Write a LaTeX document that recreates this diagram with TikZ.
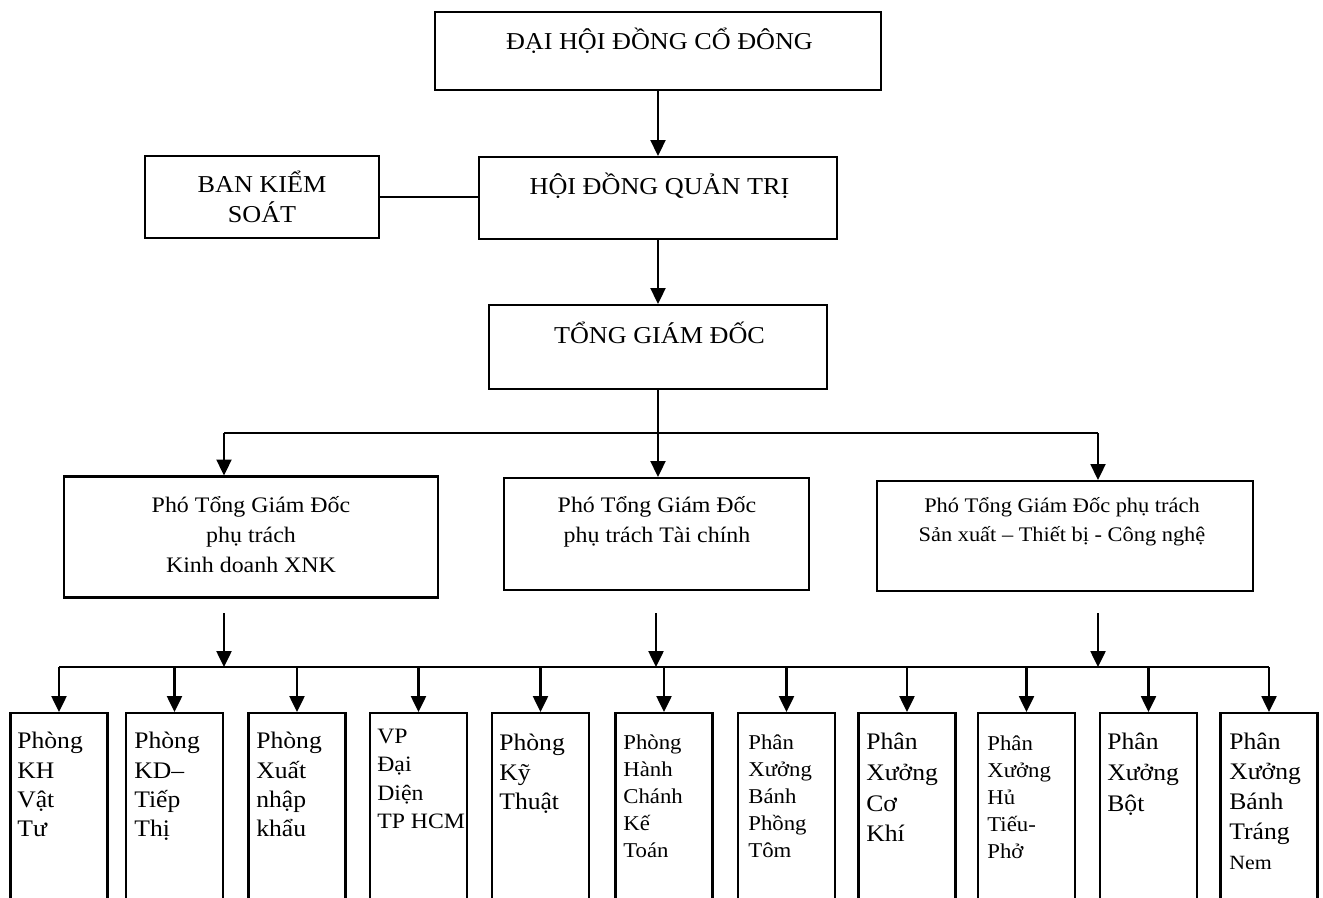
\documentclass[tikz,border=0pt]{standalone}
\usepackage{fontspec}
\setmainfont{Liberation Serif}[FakeStretch=1.08]
\usetikzlibrary{arrows.meta}

\tikzset{
  box/.style={draw, line width=1.2pt, inner sep=0pt},
  arr/.style={line width=1.2pt, -{Triangle[length=9pt,width=8.5pt]}},
  lnk/.style={line width=1.2pt},
  capt/.style={inner sep=0pt, font=\fontsize{13.8}{17}\selectfont},
  vice/.style={inner sep=0pt, align=center, anchor=north, font=\fontsize{12.6}{17}\selectfont},
  dept/.style={inner sep=0pt, align=left, anchor=north west, font=\fontsize{13.5}{16.6}\selectfont},
  deptsm/.style={dept, font=\fontsize{12}{15.4}\selectfont},
  unit/.style={box, minimum width=1.94cm, minimum height=3.9cm, anchor=north}
}

\begin{document}
\begin{tikzpicture}[x=0.02cm,y=-0.02cm]
\useasboundingbox (0,0) rectangle (1323,897);
\clip (0,0) rectangle (1323,897);

\node[box, minimum width=8.92cm, minimum height=1.56cm] (dhcd) at (658,51) {};
\node[box, minimum width=7.16cm, minimum height=1.64cm] (hdqt) at (658,198) {};
\node[box, minimum width=4.68cm, minimum height=1.64cm] (bks) at (262,197) {};
\node[box, minimum width=6.76cm, minimum height=1.68cm] (tgd) at (658,347) {};

\node[capt, anchor=base] (dhcdt) at (659.5,49) {ĐẠI HỘI ĐỒNG CỔ ĐÔNG};
\node[capt, anchor=base] (hdqtt) at (659.5,194) {HỘI ĐỒNG QUẢN TRỊ};
\node[capt, anchor=north, align=center] (bkst) at (262,171) {BAN KIỂM\\SOÁT};
\node[capt, anchor=base] (tgdt) at (659.5,343) {TỔNG GIÁM ĐỐC};

\draw[arr] (dhcd.south) -- (dhcd.south |- hdqt.north);
\draw[lnk] (bks.east) -- (bks.east -| hdqt.west);
\draw[arr] (hdqt.south) -- (hdqt.south |- tgd.north);

\node[box, minimum width=7.48cm, minimum height=2.42cm] (ptgd1) at (251,537) {};
\node[box, minimum width=6.10cm, minimum height=2.24cm] (ptgd2) at (656.5,534) {};
\node[box, minimum width=7.52cm, minimum height=2.20cm] (ptgd3) at (1065,536) {};

\node[vice] (ptgd1t) at (251,496) {Phó Tổng Giám Đốc\\phụ trách\\Kinh doanh XNK};
\node[vice] (ptgd2t) at (657,496) {Phó Tổng Giám Đốc\\phụ trách Tài chính};
\node[vice, font=\fontsize{11.8}{16.4}\selectfont] (ptgd3t) at (1062,497) {Phó Tổng Giám Đốc phụ trách\\Sản xuất – Thiết bị - Công nghệ};

\coordinate (busL) at (224,433);
\coordinate (busR) at (1098,433);
\coordinate (busM) at (tgd.south |- busL);
\draw[lnk] (tgd.south) -- (busM);
\draw[lnk] (busL) -- (busR);
\draw[arr] (busL) -- (busL |- ptgd1.north);
\draw[arr] (busM) -- (busM |- ptgd2.north);
\draw[arr] (busR) -- (busR |- ptgd3.north);

\coordinate (bus2) at (0,667);
\coordinate (dL) at (224,613);
\coordinate (dM) at (656,613);
\coordinate (dR) at (1098,613);
\draw[arr] (dL) -- (dL |- bus2);
\draw[arr] (dM) -- (dM |- bus2);
\draw[arr] (dR) -- (dR |- bus2);

\node[unit] (b1) at (59,712) {};
\node[unit] (b2) at (174.5,712) {};
\node[unit] (b3) at (297,712) {};
\node[unit] (b4) at (418.5,712) {};
\node[unit] (b5) at (540.5,712) {};
\node[unit] (b6) at (664,712) {};
\node[unit] (b7) at (786.5,712) {};
\node[unit] (b8) at (907,712) {};
\node[unit] (b9) at (1026.5,712) {};
\node[unit] (b10) at (1148.5,712) {};
\node[unit] (b11) at (1269,712) {};

\draw[lnk] (b1.north |- bus2) -- (b11.north |- bus2);
\draw[arr] (b1.north |- bus2) -- (b1.north);
\draw[arr] (b2.north |- bus2) -- (b2.north);
\draw[arr] (b3.north |- bus2) -- (b3.north);
\draw[arr] (b4.north |- bus2) -- (b4.north);
\draw[arr] (b5.north |- bus2) -- (b5.north);
\draw[arr] (b6.north |- bus2) -- (b6.north);
\draw[arr] (b7.north |- bus2) -- (b7.north);
\draw[arr] (b8.north |- bus2) -- (b8.north);
\draw[arr] (b9.north |- bus2) -- (b9.north);
\draw[arr] (b10.north |- bus2) -- (b10.north);
\draw[arr] (b11.north |- bus2) -- (b11.north);

\node[dept] (t1) at (17,732) {Phòng\\KH\\Vật\\Tư};
\node[dept] (t2) at (134,732) {Phòng\\KD–\\Tiếp\\Thị};
\node[dept] (t3) at (256,732) {Phòng\\Xuất\\nhập\\khẩu};
\node[dept, font=\fontsize{12.5}{16.2}\selectfont] (t4) at (377,728.5) {VP\\Đại\\Diện\\TP HCM};
\node[dept] (t5) at (499,734) {Phòng\\Kỹ\\Thuật};
\node[deptsm] (t6) at (623,734) {Phòng\\Hành\\Chánh\\Kế\\Toán};
\node[deptsm] (t7) at (748,734) {Phân\\Xưởng\\Bánh\\Phồng\\Tôm};
\node[dept, font=\fontsize{13.5}{17.4}\selectfont] (t8) at (866,733) {Phân\\Xưởng\\Cơ\\Khí};
\node[deptsm] (t9) at (987,735) {Phân\\Xưởng\\Hủ\\Tiếu-\\Phở};
\node[dept, font=\fontsize{13.5}{17.4}\selectfont] (t10) at (1107,733) {Phân\\Xưởng\\Bột};
\node[dept, font=\fontsize{13.5}{17}\selectfont] (t11) at (1229,733) {Phân\\Xưởng\\Bánh\\Tráng\\{\fontsize{11.5}{14}\selectfont Nem}};
\end{tikzpicture}
\end{document}
